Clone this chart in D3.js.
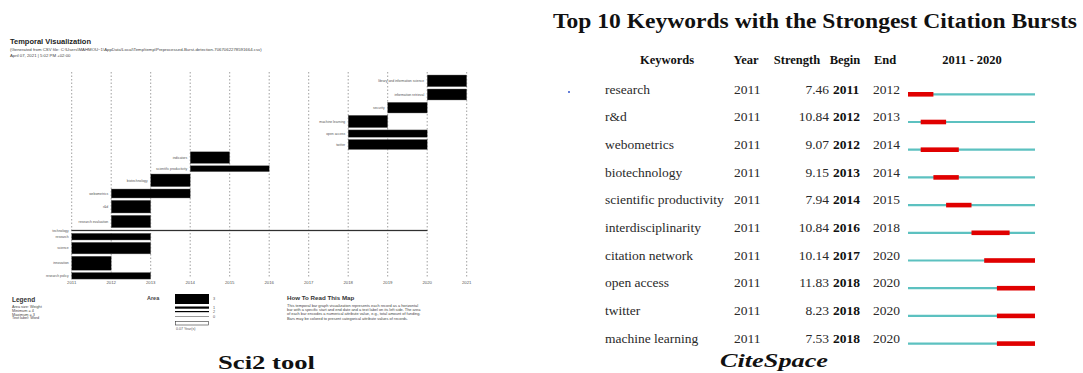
<!DOCTYPE html>
<html>
<head>
<meta charset="utf-8">
<script src="https://cdn.jsdelivr.net/npm/d3@7/dist/d3.min.js"></script>
<style>
  html, body { margin: 0; padding: 0; background: #fff; }
  svg { display: block; }
</style>
</head>
<body>
<svg id="chart" width="1083" height="373"></svg>
<script>
// ---------- Sci2 temporal bar graph data ----------
const sciWords   = ["library and information science", "information retrieval", "security", "machine learning",
                    "open access", "twitter", "indicators", "scientific productivity", "biotechnology",
                    "webometrics", "r&d", "research evaluation", "technology", "research", "science",
                    "innovation", "research policy"];
const sciStart   = [2020, 2020, 2019, 2018, 2018, 2018, 2014, 2014, 2013, 2012, 2012, 2012, 2011, 2011, 2011, 2011, 2011];
const sciEnd     = [2021, 2021, 2020, 2019, 2020, 2020, 2015, 2016, 2014, 2014, 2013, 2013, 2020, 2013, 2013, 2012, 2013];
const sciWeight  = [11.7, 11, 10.7, 12.3, 14.6, 20, 11.6, 12, 12.7, 18, 12.7, 12.4, 9, 13.4, 23.2, 14, 13.2];
const sciYears   = [2011, 2012, 2013, 2014, 2015, 2016, 2017, 2018, 2019, 2020, 2021];
const legendText = ["Area size: Weight", "Minimum = 4", "Maximum = 3", "Text label: Word"];
const readText   = ["This temporal bar graph visualization represents each record as a horizontal",
                    "bar with a specific start and end date and a text label on its left side. The area",
                    "of each bar encodes a numerical attribute value, e.g., total amount of funding.",
                    "Bars may be colored to present categorical attribute values of records."];

// ---------- CiteSpace burst table data ----------
const keywords  = ["research", "r&d", "webometrics", "biotechnology", "scientific productivity",
                   "interdisciplinarity", "citation network", "open access", "twitter", "machine learning"];
const kwYear    = [2011, 2011, 2011, 2011, 2011, 2011, 2011, 2011, 2011, 2011];
const strength  = [7.46, 10.84, 9.07, 9.15, 7.94, 10.84, 10.14, 11.83, 8.23, 7.53];
const burstBegin = [2011, 2012, 2012, 2013, 2014, 2016, 2017, 2018, 2018, 2018];
const burstEnd   = [2012, 2013, 2014, 2014, 2015, 2018, 2020, 2020, 2020, 2020];
const spanStart = 2011, spanEnd = 2020;

const svg = d3.select("#chart");

// =============== Left panel: Sci2 temporal visualization ===============
const left = svg.append("g").attr("font-family", "'Liberation Sans', Arial, sans-serif");

left.append("text").attr("x", 10).attr("y", 44).attr("font-size", 7.5).attr("font-weight", "bold")
  .attr("fill", "#222").text("Temporal Visualization");
left.append("text").attr("x", 10).attr("y", 51).attr("font-size", 4.3).attr("fill", "#444")
  .text("(Generated from CSV file: C:\\Users\\MAHMOU~1\\AppData\\Local\\Temp\\temp\\Preprocessed-Burst-detection-7067062278591664.csv)");
left.append("text").attr("x", 10).attr("y", 57).attr("font-size", 4.3).attr("fill", "#444")
  .text("April 07, 2021 | 5:02 PM +02:00");

const xs = d3.scaleLinear().domain([2011, 2021]).range([71.7, 466.7]);
// bar thickness = weight spread over the bar's duration (area encodes weight)
const hs = d3.scaleLinear().domain([0, 1]).range([0, 1]);

// grid lines per year
left.append("g").selectAll("line").data(sciYears).join("line")
  .attr("x1", d => xs(d)).attr("x2", d => xs(d))
  .attr("y1", 72).attr("y2", 278)
  .attr("stroke", "#888").attr("stroke-width", 0.8).attr("stroke-dasharray", "1.5,2");

left.append("g").selectAll("text").data(sciYears).join("text")
  .attr("x", d => xs(d)).attr("y", 283.5).attr("text-anchor", "middle")
  .attr("font-size", 4.3).attr("fill", "#555").text(d => d);

// stack rows from the top
const gap = 2.3;
let yCursor = 75;
const rows = sciWords.map((w, i) => {
  const h = Math.max(1, hs(sciWeight[i] / (sciEnd[i] - sciStart[i])));
  const r = { word: w, start: sciStart[i], end: sciEnd[i], y: yCursor, h: h };
  yCursor += h + gap;
  return r;
});

left.append("g").selectAll("rect").data(rows).join("rect")
  .attr("x", d => xs(d.start)).attr("y", d => d.y)
  .attr("width", d => xs(d.end) - xs(d.start)).attr("height", d => d.h)
  .attr("fill", "#000").attr("stroke", "#777").attr("stroke-width", 0.4);

left.append("g").selectAll("text").data(rows).join("text")
  .attr("x", d => xs(d.start) - 3).attr("y", d => d.y + d.h / 2 + 1.2)
  .attr("text-anchor", "end").attr("font-size", 3.4).attr("fill", "#555").text(d => d.word);

// legend
left.append("text").attr("x", 12).attr("y", 302).attr("font-size", 6.5).attr("font-weight", "bold")
  .attr("fill", "#333").text("Legend");
left.append("g").selectAll("text").data(legendText).join("text")
  .attr("x", 12).attr("y", (d, i) => 308 + i * 3.8).attr("font-size", 3.8).attr("fill", "#444").text(d => d);

left.append("text").attr("x", 147).attr("y", 300).attr("font-size", 5.5).attr("font-weight", "bold")
  .attr("fill", "#444").text("Area");
const legendBars = [{ y: 294, h: 10, v: "3" }, { y: 306.5, h: 2.2, v: "1" }, { y: 311, h: 1.2, v: "2" }, { y: 316.5, h: 0.4, v: "0" }];
left.append("g").selectAll("rect").data(legendBars).join("rect")
  .attr("x", 175).attr("y", d => d.y).attr("width", 34).attr("height", d => d.h).attr("fill", "#000");
left.append("g").selectAll("text").data(legendBars).join("text")
  .attr("x", 213).attr("y", d => d.y + d.h / 2 + 1.3).attr("font-size", 3.8).attr("fill", "#555").text(d => d.v);
left.append("rect").attr("x", 175.5).attr("y", 321.5).attr("width", 33).attr("height", 3.5)
  .attr("fill", "none").attr("stroke", "#333").attr("stroke-width", 0.6);
left.append("text").attr("x", 176).attr("y", 330).attr("font-size", 3.6).attr("fill", "#555").text("0.07 Year(s)");

left.append("text").attr("x", 287).attr("y", 300).attr("font-size", 6.2).attr("font-weight", "bold")
  .attr("fill", "#333").text("How To Read This Map");
left.append("g").selectAll("text").data(readText).join("text")
  .attr("x", 287).attr("y", (d, i) => 307 + i * 4.2).attr("font-size", 3.9).attr("fill", "#444").text(d => d);

left.append("text").attr("x", 218).attr("y", 369)
  .attr("font-family", "'Liberation Serif', 'Times New Roman', serif").attr("font-weight", "bold").attr("font-size", 18)
  .attr("textLength", 97).attr("lengthAdjust", "spacingAndGlyphs")
  .attr("fill", "#111").text("Sci2 tool");

// =============== Right panel: CiteSpace citation bursts ===============
const right = svg.append("g").attr("font-family", "'Liberation Serif', 'Times New Roman', serif").attr("fill", "#222");

right.append("text").attr("x", 553).attr("y", 28)
  .attr("font-size", 22).attr("font-weight", "bold").attr("fill", "#111")
  .attr("textLength", 524).attr("lengthAdjust", "spacingAndGlyphs")
  .text("Top 10 Keywords with the Strongest Citation Bursts");

const hdrY = 64;
const cols = { kw: 667, year: 746, strength: 797, begin: 845, end: 885, span: 972 };
const hdr = right.append("g").attr("font-weight", "bold").attr("font-size", 12.5).attr("text-anchor", "middle").attr("fill", "#111");
hdr.append("text").attr("x", cols.kw).attr("y", hdrY).text("Keywords");
hdr.append("text").attr("x", cols.year).attr("y", hdrY).text("Year");
hdr.append("text").attr("x", cols.strength).attr("y", hdrY).text("Strength");
hdr.append("text").attr("x", cols.begin).attr("y", hdrY).text("Begin");
hdr.append("text").attr("x", cols.end).attr("y", hdrY).text("End");
hdr.append("text").attr("x", cols.span).attr("y", hdrY).text(spanStart + " - " + spanEnd);

const ys = d3.scalePoint().domain(keywords).range([89, 338.3]);
const xb = d3.scaleLinear().domain([spanStart, spanEnd + 1]).range([908, 1035]);

const rowG = right.append("g").attr("font-size", 13.5).attr("fill", "#2a2a2a");
rowG.selectAll(".kw").data(keywords).join("text").attr("class", "kw")
  .attr("x", 605).attr("y", d => ys(d) + 4.5).text(d => d);
rowG.selectAll(".yr").data(keywords).join("text").attr("class", "yr")
  .attr("x", 734).attr("y", d => ys(d) + 4.5).text((d, i) => kwYear[i]);
rowG.selectAll(".st").data(keywords).join("text").attr("class", "st")
  .attr("x", 829).attr("y", d => ys(d) + 4.5).attr("text-anchor", "end").text((d, i) => strength[i].toFixed(2));
rowG.selectAll(".bg").data(keywords).join("text").attr("class", "bg")
  .attr("x", 833).attr("y", d => ys(d) + 4.5).attr("font-weight", "bold").attr("fill", "#111").text((d, i) => burstBegin[i]);
rowG.selectAll(".en").data(keywords).join("text").attr("class", "en")
  .attr("x", 873).attr("y", d => ys(d) + 4.5).text((d, i) => burstEnd[i]);

// timeline and burst segments
right.append("g").selectAll("line").data(keywords).join("line")
  .attr("x1", xb(spanStart)).attr("x2", xb(spanEnd + 1))
  .attr("y1", d => ys(d) + 5.3).attr("y2", d => ys(d) + 5.3)
  .attr("stroke", "#5cc1c0").attr("stroke-width", 2.2);
right.append("g").selectAll("rect").data(keywords).join("rect")
  .attr("x", (d, i) => xb(burstBegin[i]))
  .attr("width", (d, i) => xb(burstEnd[i] + 1) - xb(burstBegin[i]))
  .attr("y", d => ys(d) + 3).attr("height", 4.6)
  .attr("fill", "#e00000");

right.append("circle").attr("cx", 569).attr("cy", 92).attr("r", 1).attr("fill", "#3355cc");

right.append("text").attr("x", 720).attr("y", 367)
  .attr("font-style", "italic").attr("font-weight", "bold").attr("font-size", 18)
  .attr("textLength", 108).attr("lengthAdjust", "spacingAndGlyphs")
  .attr("fill", "#111").text("CiteSpace");
</script>
</body>
</html>
